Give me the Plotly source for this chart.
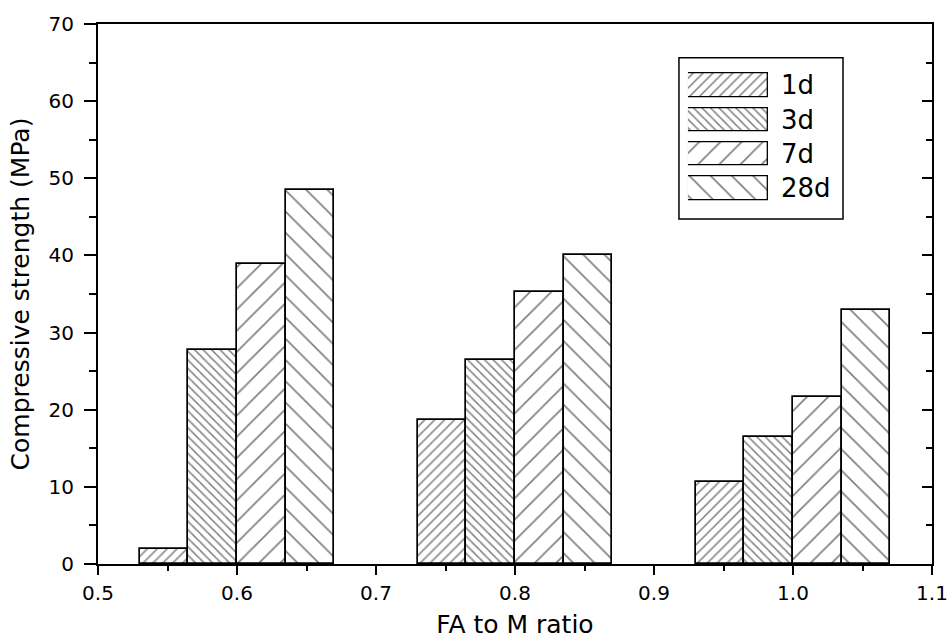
import plotly.graph_objects as go

# ---- data ----
ratios = [0.6, 0.8, 1.0]
series = ["1d", "3d", "7d", "28d"]
s_1d = [2.0, 18.7, 10.6]
s_3d = [27.7, 26.5, 16.4]
s_7d = [38.9, 35.2, 21.6]
s_28d = [48.5, 40.1, 32.9]
values = [s_1d, s_3d, s_7d, s_28d]
x_ticks = [0.5, 0.6, 0.7, 0.8, 0.9, 1.0, 1.1]
y_ticks = [0, 10, 20, 30, 40, 50, 60, 70]

# ---- styles ----
FONT = "DejaVu Sans"
bar_w = 0.035
offsets = [-0.07, -0.035, 0.0, 0.035]
patterns = [
    dict(shape="/", size=7, solidity=0.22),
    dict(shape="\\", size=6, solidity=0.25),
    dict(shape="/", size=15, solidity=0.11),
    dict(shape="\\", size=15, solidity=0.11),
]

fig = go.Figure()
for name, vals, off, pat in zip(series, values, offsets, patterns):
    fig.add_trace(go.Bar(
        x=ratios, y=vals, width=bar_w, offset=off, name=name,
        marker=dict(color="white", line=dict(color="black", width=1.7),
                    pattern=dict(fgcolor="black", bgcolor="white", **pat)),
        showlegend=False, xaxis="x", yaxis="y",
    ))

# custom legend (wide hatched swatches) on an auxiliary axis
for i, (name, pat) in enumerate(zip(series, patterns)):
    fig.add_trace(go.Bar(
        x=[1], y=[i], base=0, orientation="h", width=0.685,
        marker=dict(color="white", line=dict(color="black", width=1.3),
                    pattern=dict(fgcolor="black", bgcolor="white", **pat)),
        showlegend=False, xaxis="x3", yaxis="y3", hoverinfo="skip",
    ))
    fig.add_annotation(x=0.8165, xref="paper", y=i, yref="y3", text=name,
                       showarrow=False, xanchor="left", yanchor="middle",
                       font=dict(family=FONT, size=26, color="black"))

# right-side inside ticks
fig.add_trace(go.Scatter(x=[None], y=[None], xaxis="x", yaxis="y2",
                         showlegend=False, hoverinfo="skip"))

fig.add_shape(type="rect", xref="paper", yref="paper",
              x0=0.6966, x1=0.8933, y0=0.6389, y1=0.9376,
              line=dict(color="black", width=1.5), fillcolor="rgba(0,0,0,0)",
              layer="below")

fig.update_layout(
    width=948, height=639,
    margin=dict(l=98, r=16, t=24, b=75, autoexpand=False),
    paper_bgcolor="white", plot_bgcolor="white",
    font=dict(family=FONT, size=20, color="black"),
    bargap=0, showlegend=False,
    xaxis=dict(
        range=[0.5, 1.1], tickvals=x_ticks, tickformat=".1f", automargin=False,
        ticks="outside", ticklen=9, tickwidth=1.5, tickcolor="black",
        minor=dict(dtick=0.05, ticks="outside", ticklen=5, tickwidth=1.5, tickcolor="black"),
        showline=True, linewidth=2, linecolor="black", mirror=True,
        showgrid=False, zeroline=False,
        title=dict(text="FA to M ratio", font=dict(family=FONT, size=25), standoff=16),
        tickfont=dict(family=FONT, size=20), ticklabelstandoff=1,
    ),
    yaxis=dict(
        range=[0, 70], tickvals=y_ticks, automargin=False,
        ticks="outside", ticklen=12, tickwidth=1.5, tickcolor="black",
        minor=dict(dtick=5, ticks="outside", ticklen=7, tickwidth=1.5, tickcolor="black"),
        showline=True, linewidth=2, linecolor="black", mirror=True,
        showgrid=False, zeroline=False,
        title=dict(text="Compressive strength (MPa)", font=dict(family=FONT, size=25), standoff=12),
        tickfont=dict(family=FONT, size=20), ticklabelstandoff=6,
    ),
    yaxis2=dict(
        range=[0, 70], tickvals=y_ticks, overlaying="y", side="right", automargin=False,
        ticks="inside", ticklen=10, tickwidth=1.5, tickcolor="black",
        minor=dict(dtick=5, ticks="inside", ticklen=6, tickwidth=1.5, tickcolor="black"),
        showticklabels=False, showgrid=False, zeroline=False, showline=False,
    ),
    xaxis3=dict(domain=[0.7074, 0.8034], range=[0, 1], visible=False, anchor="y3",
                fixedrange=True),
    yaxis3=dict(domain=[0.6639, 0.9179], range=[3.5, -0.5], visible=False, anchor="x3",
                fixedrange=True),
)

fig.write_html("out.html")
